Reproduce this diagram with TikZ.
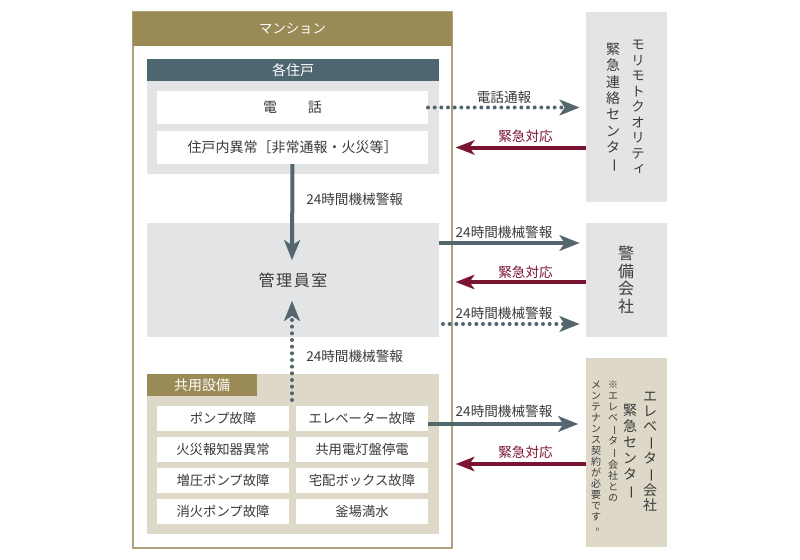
\documentclass[tikz,border=0pt]{standalone}
\usepackage{fontspec}
\setmainfont{Noto Sans CJK JP}
\usepackage{graphicx}
\usetikzlibrary{arrows.meta,fit}
\definecolor{cOlive}{HTML}{9A8A56}
\definecolor{cBorder}{HTML}{AFA27A}
\definecolor{cSlateHead}{HTML}{4E6670}
\definecolor{cGray}{HTML}{E3E4E6}
\definecolor{cBeige}{HTML}{DDD8C7}
\definecolor{cArrow}{HTML}{53656D}
\definecolor{cRed}{HTML}{7A1430}
\definecolor{cText}{HTML}{3A3A3A}
\newcommand{\Vb}{\rotatebox[origin=c]{-90}{ー}}
\newcommand{\Vs}[1]{\makebox[1em][l]{\hspace{0.12em}\raisebox{0.12em}{#1}}}
\newcommand{\Vp}{\makebox[1em][l]{\hspace{0.45em}\raisebox{0.1em}{。}}}
\begin{document}
\begin{tikzpicture}[x=0.75pt,y=-0.75pt,
  region/.style={rectangle, inner sep=0pt, outer sep=0pt, draw=none},
  cell/.style={region, fill=white},
  ctext/.style={inner sep=0pt, text=cText, font=\fontsize{10pt}{11pt}\selectfont},
  htext/.style={inner sep=0pt, text=white, font=\fontsize{10.5pt}{12pt}\selectfont},
  lbl/.style={inner sep=0pt, text=cText, font=\fontsize{10.2pt}{11pt}\selectfont},
  rlbl/.style={lbl, text=cRed},
  vt/.style={inner sep=0pt, align=center, text=cText},
  tipS/.style={-{Stealth[length=15pt,width=12pt,inset=4pt,line width=0.1pt]}},
  tipR/.style={-{Stealth[length=14pt,width=11pt,inset=4pt,line width=0.1pt]}},
  sarrow/.style={draw=cArrow, line width=3pt, tipS},
  darrow/.style={draw=cArrow, line width=3pt, dash pattern=on 0pt off 5pt, line cap=round, tipS},
  rarrow/.style={draw=cRed, line width=3pt, tipR},
]
\useasboundingbox (0,0) rectangle (800,560);

% Mansion
\node[region, draw=cBorder, line width=1pt, fit={(133,12)(452,548)}] (mansion) {};
\node[region, fill=cOlive, fit={(133,12)(452,46)}] (mhead) {};
\node[htext, font=\fontsize{10pt}{12pt}\selectfont] (mheadT) at (mhead.center) {マンション};

% Units
\node[region, fill=cSlateHead, fit={(147,59)(439,81)}] (uhead) {};
\node[htext] (uheadT) at (uhead.center) {各住戸};
\node[region, fill=cGray, fit={(147,81)(439,174)}] (unit) {};
\node[cell, fit={(157,91)(428,124)}] (tel) {};
\node[ctext, font=\fontsize{10.5pt}{12pt}\selectfont] (telT) at (tel.center) {電\hspace{2.2em}話};
\node[cell, fit={(157,131)(428,164)}] (abn) {};
\node[ctext, font=\fontsize{10.5pt}{12pt}\selectfont] (abnT) at (abn.center) {住戸内異常［非常通報・火災等］};

% Management office
\node[region, fill=cGray, fit={(147,223)(439,337)}] (kanri) {};
\node[ctext, font=\fontsize{12pt}{14pt}\selectfont] (kanriT) at (kanri.center) {管\hspace{0.1em}理\hspace{0.1em}員\hspace{0.1em}室};

% Common facilities
\node[region, fill=cBeige, fit={(147,374)(439,534)}] (kyoyo) {};
\node[region, fill=cOlive, fit={(147,374)(257,396)}] (khead) {};
\node[htext] (kheadT) at (khead.center) {共用設備};
\node[cell, fit={(157,406)(289,431)}] (c11) {};
\node[cell, fit={(296,406)(428,431)}] (c12) {};
\node[cell, fit={(157,437)(289,462)}] (c21) {};
\node[cell, fit={(296,437)(428,462)}] (c22) {};
\node[cell, fit={(157,468)(289,493)}] (c31) {};
\node[cell, fit={(296,468)(428,493)}] (c32) {};
\node[cell, fit={(157,499)(289,524)}] (c41) {};
\node[cell, fit={(296,499)(428,524)}] (c42) {};
\node[ctext] (c11T) at (c11.center) {ポンプ故障};
\node[ctext] (c12T) at (c12.center) {エレベーター故障};
\node[ctext] (c21T) at (c21.center) {火災報知器異常};
\node[ctext] (c22T) at (c22.center) {共用電灯盤停電};
\node[ctext] (c31T) at (c31.center) {増圧ポンプ故障};
\node[ctext] (c32T) at (c32.center) {宅配ボックス故障};
\node[ctext] (c41T) at (c41.center) {消火ポンプ故障};
\node[ctext] (c42T) at (c42.center) {釜場満水};

% Right-hand boxes
\node[region, fill=cGray, fit={(586,12)(667,202)}] (mori) {};
\node[region, fill=cGray, fit={(586,223)(667,337)}] (keibi) {};
\node[region, fill=cBeige, fit={(586,358)(667,547)}] (elev) {};

\node[vt, font=\fontsize{10pt}{11.6pt}\selectfont] (moriA) at (638,107) {モ\\リ\\モ\\ト\\ク\\オ\\リ\\テ\\\Vs{ィ}};
\node[vt, font=\fontsize{10.5pt}{12.2pt}\selectfont] (moriB) at (613,108) {緊\\急\\連\\絡\\セ\\ン\\タ\\\Vb};
\node[vt, font=\fontsize{12pt}{13.1pt}\selectfont] (keibiT) at (626,280) {警\\備\\会\\社};
\node[vt, font=\fontsize{10.5pt}{11.3pt}\selectfont] (elevA) at (650,452) {エ\\レ\\ベ\\\Vb\\タ\\\Vb\\会\\社};
\node[vt, font=\fontsize{10.5pt}{12pt}\selectfont] (elevB) at (630,452) {緊\\急\\セ\\ン\\タ\\\Vb};
\node[vt, anchor=north, font=\fontsize{7.5pt}{8.2pt}\selectfont] (elevC) at (613,381) {※\\エ\\レ\\ベ\\\Vb\\タ\\\Vb\\会\\社\\と\\の};
\node[vt, anchor=north, font=\fontsize{7.5pt}{8.2pt}\selectfont] (elevD) at (596,381) {メ\\ン\\テ\\ナ\\ン\\ス\\契\\約\\が\\必\\要\\で\\す\\\Vp};

% Coordinates for connector rows
\coordinate (yA2) at (0,243);
\coordinate (yR2) at (0,282);
\coordinate (yA3) at (0,324);
\coordinate (yA4) at (0,424);
\coordinate (yR3) at (0,464);
\coordinate (tipDown) at (292,260);
\coordinate (startUp) at (292,400);
\coordinate (tipUp) at (292,301);
\coordinate (startA3) at (443,324);

% Connectors
\draw[darrow, shorten >=5pt] (tel.east) -- (tel.east -| mori.west);
\node[lbl] (lTel) at (504,97) {電話通報};
\draw[rarrow, shorten >=3pt] (mori.west |- abn.east) -- (abn.east -| mansion.east);
\node[rlbl, anchor=east] (lR1) at (553,136) {緊急対応};

\draw[sarrow] (abn.south) -- (tipDown);
\node[lbl, anchor=west] (lDown) at (306,199) {24時間機械警報};

\draw[sarrow, shorten >=5pt] (kanri.east |- yA2) -- (keibi.west |- yA2);
\node[lbl] (lA2) at (504,232) {24時間機械警報};
\draw[rarrow, shorten >=3pt] (keibi.west |- yR2) -- (mansion.east |- yR2);
\node[rlbl, anchor=east] (lR2) at (553,272) {緊急対応};
\draw[darrow, shorten >=5pt] (startA3) -- (keibi.west |- yA3);
\node[lbl] (lA3) at (504,313) {24時間機械警報};

\draw[darrow] (startUp) -- (tipUp);
\node[lbl, anchor=west] (lUp) at (306,356) {24時間機械警報};

\draw[sarrow, shorten >=6pt] (c12.east |- yA4) -- (elev.west |- yA4);
\node[lbl] (lA4) at (504,411) {24時間機械警報};
\draw[rarrow, shorten >=3pt] (elev.west |- yR3) -- (mansion.east |- yR3);
\node[rlbl, anchor=east] (lR3) at (553,452) {緊急対応};
\end{tikzpicture}
\end{document}
